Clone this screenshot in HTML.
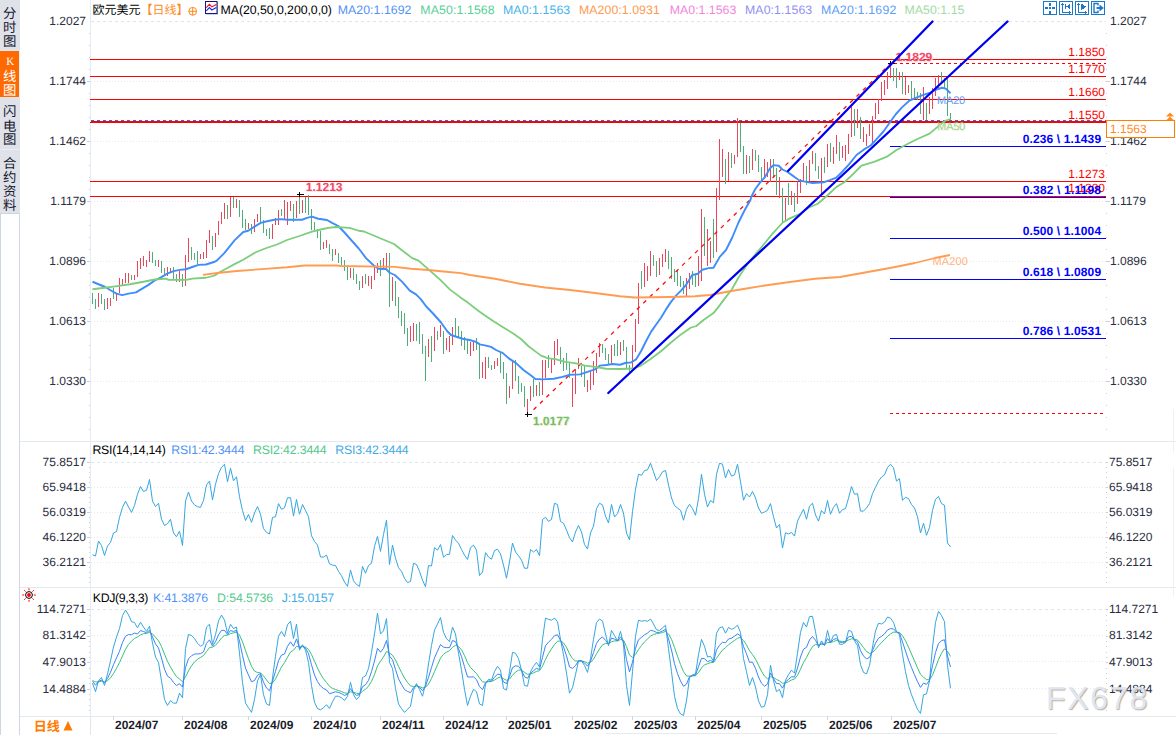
<!DOCTYPE html>
<html lang="zh"><head><meta charset="utf-8"><title>EURUSD 日线</title>
<style>
html,body{margin:0;padding:0;background:#fff}
body{width:1176px;height:735px;position:relative;overflow:hidden;font-family:"Liberation Sans",sans-serif;font-size:12px;text-rendering:geometricPrecision}
svg{position:absolute;left:0;top:0}
.t{position:absolute;white-space:nowrap;line-height:1;margin:0;padding:0}
.c{overflow:hidden;user-select:text}
</style></head><body>
<svg width="1176" height="735" viewBox="0 0 1176 735">
<g shape-rendering="crispEdges" fill="none">
<line x1="91" x2="1106" y1="21.5" y2="21.5" stroke="#dfe6ee" stroke-dasharray="3 3"/>
<line x1="91" x2="1106" y1="81.5" y2="81.5" stroke="#e6eaef" stroke-dasharray="1 2"/>
<line x1="91" x2="1106" y1="141.5" y2="141.5" stroke="#e6eaef" stroke-dasharray="1 2"/>
<line x1="91" x2="1106" y1="201.5" y2="201.5" stroke="#e6eaef" stroke-dasharray="1 2"/>
<line x1="91" x2="1106" y1="261.5" y2="261.5" stroke="#e6eaef" stroke-dasharray="1 2"/>
<line x1="91" x2="1106" y1="321.5" y2="321.5" stroke="#e6eaef" stroke-dasharray="1 2"/>
<line x1="91" x2="1106" y1="381.5" y2="381.5" stroke="#e6eaef" stroke-dasharray="1 2"/>
<line x1="91" x2="1106" y1="462.5" y2="462.5" stroke="#dfe6ee" stroke-dasharray="3 3"/>
<line x1="91" x2="1106" y1="487.5" y2="487.5" stroke="#e6eaef" stroke-dasharray="1 2"/>
<line x1="91" x2="1106" y1="512.5" y2="512.5" stroke="#e6eaef" stroke-dasharray="1 2"/>
<line x1="91" x2="1106" y1="537.5" y2="537.5" stroke="#e6eaef" stroke-dasharray="1 2"/>
<line x1="91" x2="1106" y1="562.5" y2="562.5" stroke="#e6eaef" stroke-dasharray="1 2"/>
<line x1="91" x2="1106" y1="609.5" y2="609.5" stroke="#dfe6ee" stroke-dasharray="3 3"/>
<line x1="91" x2="1106" y1="635.5" y2="635.5" stroke="#e6eaef" stroke-dasharray="1 2"/>
<line x1="91" x2="1106" y1="661.5" y2="661.5" stroke="#e6eaef" stroke-dasharray="1 2"/>
<line x1="91" x2="1106" y1="688.5" y2="688.5" stroke="#e6eaef" stroke-dasharray="1 2"/>
<line x1="20" x2="1176" y1="441.5" y2="441.5" stroke="#e4e9f0"/>
<line x1="20" x2="1176" y1="587.5" y2="587.5" stroke="#e4e9f0"/>
<line x1="20" x2="1176" y1="716.5" y2="716.5" stroke="#e4e9f0"/>
<line x1="90.5" x2="90.5" y1="0" y2="716" stroke="#e6ecf3"/>
<line x1="90.5" x2="90.5" y1="716" y2="735" stroke="#e1e6ee"/>
<line x1="1173.5" x2="1173.5" y1="409" y2="452" stroke="#edf1f5"/>
<line x1="1173.5" x2="1173.5" y1="468" y2="596" stroke="#edf1f5"/>
<rect x="89" y="33" width="1" height="1" fill="#c9d0da"/>
<rect x="1106" y="33" width="1" height="1" fill="#c9d0da"/>
<rect x="89" y="45" width="1" height="1" fill="#c9d0da"/>
<rect x="1106" y="45" width="1" height="1" fill="#c9d0da"/>
<rect x="89" y="57" width="1" height="1" fill="#c9d0da"/>
<rect x="1106" y="57" width="1" height="1" fill="#c9d0da"/>
<rect x="89" y="69" width="1" height="1" fill="#c9d0da"/>
<rect x="1106" y="69" width="1" height="1" fill="#c9d0da"/>
<rect x="87" y="81" width="3" height="1" fill="#c9d0da"/>
<rect x="1106" y="81" width="4" height="1" fill="#c9d0da"/>
<rect x="89" y="93" width="1" height="1" fill="#c9d0da"/>
<rect x="1106" y="93" width="1" height="1" fill="#c9d0da"/>
<rect x="89" y="105" width="1" height="1" fill="#c9d0da"/>
<rect x="1106" y="105" width="1" height="1" fill="#c9d0da"/>
<rect x="89" y="117" width="1" height="1" fill="#c9d0da"/>
<rect x="1106" y="117" width="1" height="1" fill="#c9d0da"/>
<rect x="89" y="129" width="1" height="1" fill="#c9d0da"/>
<rect x="1106" y="129" width="1" height="1" fill="#c9d0da"/>
<rect x="87" y="141" width="3" height="1" fill="#c9d0da"/>
<rect x="1106" y="141" width="4" height="1" fill="#c9d0da"/>
<rect x="89" y="153" width="1" height="1" fill="#c9d0da"/>
<rect x="1106" y="153" width="1" height="1" fill="#c9d0da"/>
<rect x="89" y="165" width="1" height="1" fill="#c9d0da"/>
<rect x="1106" y="165" width="1" height="1" fill="#c9d0da"/>
<rect x="89" y="177" width="1" height="1" fill="#c9d0da"/>
<rect x="1106" y="177" width="1" height="1" fill="#c9d0da"/>
<rect x="89" y="189" width="1" height="1" fill="#c9d0da"/>
<rect x="1106" y="189" width="1" height="1" fill="#c9d0da"/>
<rect x="87" y="201" width="3" height="1" fill="#c9d0da"/>
<rect x="1106" y="201" width="4" height="1" fill="#c9d0da"/>
<rect x="89" y="213" width="1" height="1" fill="#c9d0da"/>
<rect x="1106" y="213" width="1" height="1" fill="#c9d0da"/>
<rect x="89" y="225" width="1" height="1" fill="#c9d0da"/>
<rect x="1106" y="225" width="1" height="1" fill="#c9d0da"/>
<rect x="89" y="237" width="1" height="1" fill="#c9d0da"/>
<rect x="1106" y="237" width="1" height="1" fill="#c9d0da"/>
<rect x="89" y="249" width="1" height="1" fill="#c9d0da"/>
<rect x="1106" y="249" width="1" height="1" fill="#c9d0da"/>
<rect x="87" y="261" width="3" height="1" fill="#c9d0da"/>
<rect x="1106" y="261" width="4" height="1" fill="#c9d0da"/>
<rect x="89" y="273" width="1" height="1" fill="#c9d0da"/>
<rect x="1106" y="273" width="1" height="1" fill="#c9d0da"/>
<rect x="89" y="285" width="1" height="1" fill="#c9d0da"/>
<rect x="1106" y="285" width="1" height="1" fill="#c9d0da"/>
<rect x="89" y="297" width="1" height="1" fill="#c9d0da"/>
<rect x="1106" y="297" width="1" height="1" fill="#c9d0da"/>
<rect x="89" y="309" width="1" height="1" fill="#c9d0da"/>
<rect x="1106" y="309" width="1" height="1" fill="#c9d0da"/>
<rect x="87" y="321" width="3" height="1" fill="#c9d0da"/>
<rect x="1106" y="321" width="4" height="1" fill="#c9d0da"/>
<rect x="89" y="333" width="1" height="1" fill="#c9d0da"/>
<rect x="1106" y="333" width="1" height="1" fill="#c9d0da"/>
<rect x="89" y="345" width="1" height="1" fill="#c9d0da"/>
<rect x="1106" y="345" width="1" height="1" fill="#c9d0da"/>
<rect x="89" y="357" width="1" height="1" fill="#c9d0da"/>
<rect x="1106" y="357" width="1" height="1" fill="#c9d0da"/>
<rect x="89" y="369" width="1" height="1" fill="#c9d0da"/>
<rect x="1106" y="369" width="1" height="1" fill="#c9d0da"/>
<rect x="87" y="381" width="3" height="1" fill="#c9d0da"/>
<rect x="1106" y="381" width="4" height="1" fill="#c9d0da"/>
<rect x="89" y="393" width="1" height="1" fill="#c9d0da"/>
<rect x="1106" y="393" width="1" height="1" fill="#c9d0da"/>
<rect x="89" y="405" width="1" height="1" fill="#c9d0da"/>
<rect x="1106" y="405" width="1" height="1" fill="#c9d0da"/>
<rect x="89" y="417" width="1" height="1" fill="#c9d0da"/>
<rect x="1106" y="417" width="1" height="1" fill="#c9d0da"/>
<rect x="89" y="429" width="1" height="1" fill="#c9d0da"/>
<rect x="1106" y="429" width="1" height="1" fill="#c9d0da"/>
<rect x="87" y="462" width="3" height="1" fill="#c9d0da"/>
<rect x="1106" y="462" width="2" height="1" fill="#c9d0da"/>
<rect x="89" y="467" width="1" height="1" fill="#c9d0da"/>
<rect x="1106" y="467" width="1" height="1" fill="#c9d0da"/>
<rect x="89" y="472" width="1" height="1" fill="#c9d0da"/>
<rect x="1106" y="472" width="1" height="1" fill="#c9d0da"/>
<rect x="89" y="477" width="1" height="1" fill="#c9d0da"/>
<rect x="1106" y="477" width="1" height="1" fill="#c9d0da"/>
<rect x="89" y="482" width="1" height="1" fill="#c9d0da"/>
<rect x="1106" y="482" width="1" height="1" fill="#c9d0da"/>
<rect x="87" y="487" width="3" height="1" fill="#c9d0da"/>
<rect x="1106" y="487" width="2" height="1" fill="#c9d0da"/>
<rect x="89" y="492" width="1" height="1" fill="#c9d0da"/>
<rect x="1106" y="492" width="1" height="1" fill="#c9d0da"/>
<rect x="89" y="497" width="1" height="1" fill="#c9d0da"/>
<rect x="1106" y="497" width="1" height="1" fill="#c9d0da"/>
<rect x="89" y="502" width="1" height="1" fill="#c9d0da"/>
<rect x="1106" y="502" width="1" height="1" fill="#c9d0da"/>
<rect x="89" y="507" width="1" height="1" fill="#c9d0da"/>
<rect x="1106" y="507" width="1" height="1" fill="#c9d0da"/>
<rect x="87" y="512" width="3" height="1" fill="#c9d0da"/>
<rect x="1106" y="512" width="2" height="1" fill="#c9d0da"/>
<rect x="89" y="517" width="1" height="1" fill="#c9d0da"/>
<rect x="1106" y="517" width="1" height="1" fill="#c9d0da"/>
<rect x="89" y="522" width="1" height="1" fill="#c9d0da"/>
<rect x="1106" y="522" width="1" height="1" fill="#c9d0da"/>
<rect x="89" y="527" width="1" height="1" fill="#c9d0da"/>
<rect x="1106" y="527" width="1" height="1" fill="#c9d0da"/>
<rect x="89" y="532" width="1" height="1" fill="#c9d0da"/>
<rect x="1106" y="532" width="1" height="1" fill="#c9d0da"/>
<rect x="87" y="537" width="3" height="1" fill="#c9d0da"/>
<rect x="1106" y="537" width="2" height="1" fill="#c9d0da"/>
<rect x="89" y="542" width="1" height="1" fill="#c9d0da"/>
<rect x="1106" y="542" width="1" height="1" fill="#c9d0da"/>
<rect x="89" y="547" width="1" height="1" fill="#c9d0da"/>
<rect x="1106" y="547" width="1" height="1" fill="#c9d0da"/>
<rect x="89" y="552" width="1" height="1" fill="#c9d0da"/>
<rect x="1106" y="552" width="1" height="1" fill="#c9d0da"/>
<rect x="89" y="557" width="1" height="1" fill="#c9d0da"/>
<rect x="1106" y="557" width="1" height="1" fill="#c9d0da"/>
<rect x="87" y="562" width="3" height="1" fill="#c9d0da"/>
<rect x="1106" y="562" width="2" height="1" fill="#c9d0da"/>
<rect x="89" y="567" width="1" height="1" fill="#c9d0da"/>
<rect x="1106" y="567" width="1" height="1" fill="#c9d0da"/>
<rect x="89" y="572" width="1" height="1" fill="#c9d0da"/>
<rect x="1106" y="572" width="1" height="1" fill="#c9d0da"/>
<rect x="89" y="577" width="1" height="1" fill="#c9d0da"/>
<rect x="1106" y="577" width="1" height="1" fill="#c9d0da"/>
<rect x="89" y="582" width="1" height="1" fill="#c9d0da"/>
<rect x="1106" y="582" width="1" height="1" fill="#c9d0da"/>
<rect x="87" y="609" width="3" height="1" fill="#c9d0da"/>
<rect x="1106" y="609" width="2" height="1" fill="#c9d0da"/>
<rect x="89" y="615" width="1" height="1" fill="#c9d0da"/>
<rect x="1106" y="615" width="1" height="1" fill="#c9d0da"/>
<rect x="89" y="620" width="1" height="1" fill="#c9d0da"/>
<rect x="1106" y="620" width="1" height="1" fill="#c9d0da"/>
<rect x="89" y="625" width="1" height="1" fill="#c9d0da"/>
<rect x="1106" y="625" width="1" height="1" fill="#c9d0da"/>
<rect x="89" y="630" width="1" height="1" fill="#c9d0da"/>
<rect x="1106" y="630" width="1" height="1" fill="#c9d0da"/>
<rect x="87" y="636" width="3" height="1" fill="#c9d0da"/>
<rect x="1106" y="636" width="2" height="1" fill="#c9d0da"/>
<rect x="89" y="641" width="1" height="1" fill="#c9d0da"/>
<rect x="1106" y="641" width="1" height="1" fill="#c9d0da"/>
<rect x="89" y="646" width="1" height="1" fill="#c9d0da"/>
<rect x="1106" y="646" width="1" height="1" fill="#c9d0da"/>
<rect x="89" y="652" width="1" height="1" fill="#c9d0da"/>
<rect x="1106" y="652" width="1" height="1" fill="#c9d0da"/>
<rect x="89" y="657" width="1" height="1" fill="#c9d0da"/>
<rect x="1106" y="657" width="1" height="1" fill="#c9d0da"/>
<rect x="87" y="662" width="3" height="1" fill="#c9d0da"/>
<rect x="1106" y="662" width="2" height="1" fill="#c9d0da"/>
<rect x="89" y="668" width="1" height="1" fill="#c9d0da"/>
<rect x="1106" y="668" width="1" height="1" fill="#c9d0da"/>
<rect x="89" y="673" width="1" height="1" fill="#c9d0da"/>
<rect x="1106" y="673" width="1" height="1" fill="#c9d0da"/>
<rect x="89" y="678" width="1" height="1" fill="#c9d0da"/>
<rect x="1106" y="678" width="1" height="1" fill="#c9d0da"/>
<rect x="89" y="683" width="1" height="1" fill="#c9d0da"/>
<rect x="1106" y="683" width="1" height="1" fill="#c9d0da"/>
<rect x="87" y="689" width="3" height="1" fill="#c9d0da"/>
<rect x="1106" y="689" width="2" height="1" fill="#c9d0da"/>
<rect x="89" y="694" width="1" height="1" fill="#c9d0da"/>
<rect x="1106" y="694" width="1" height="1" fill="#c9d0da"/>
<rect x="89" y="699" width="1" height="1" fill="#c9d0da"/>
<rect x="1106" y="699" width="1" height="1" fill="#c9d0da"/>
<rect x="89" y="705" width="1" height="1" fill="#c9d0da"/>
<rect x="1106" y="705" width="1" height="1" fill="#c9d0da"/>
<rect x="89" y="710" width="1" height="1" fill="#c9d0da"/>
<rect x="1106" y="710" width="1" height="1" fill="#c9d0da"/>
<rect x="113" y="716" width="1" height="4" fill="#cfd6e0"/>
<rect x="182" y="716" width="1" height="4" fill="#cfd6e0"/>
<rect x="248" y="716" width="1" height="4" fill="#cfd6e0"/>
<rect x="311" y="716" width="1" height="4" fill="#cfd6e0"/>
<rect x="380" y="716" width="1" height="4" fill="#cfd6e0"/>
<rect x="443" y="716" width="1" height="4" fill="#cfd6e0"/>
<rect x="506" y="716" width="1" height="4" fill="#cfd6e0"/>
<rect x="572" y="716" width="1" height="4" fill="#cfd6e0"/>
<rect x="632" y="716" width="1" height="4" fill="#cfd6e0"/>
<rect x="695" y="716" width="1" height="4" fill="#cfd6e0"/>
<rect x="761" y="716" width="1" height="4" fill="#cfd6e0"/>
<rect x="827" y="716" width="1" height="4" fill="#cfd6e0"/>
<rect x="891" y="716" width="1" height="4" fill="#cfd6e0"/>
</g>
<g shape-rendering="crispEdges">
<rect x="90" y="59" width="1016" height="1" fill="#ff0000"/>
<rect x="90" y="76" width="1016" height="1" fill="#ff0000"/>
<rect x="90" y="99" width="1016" height="1" fill="#ff0000"/>
<rect x="90" y="181" width="1016" height="1" fill="#ff0000"/>
<rect x="90" y="196" width="1016" height="1" fill="#ff0000"/>
<rect x="91" y="121" width="1015" height="2" fill="#ff0000"/><rect x="90" y="122" width="1" height="1" fill="#ff0000"/>
<line x1="91" x2="1106" y1="120.5" y2="120.5" stroke="#0a78f0" stroke-dasharray="3 3"/>
<line x1="894" x2="1106" y1="63.5" y2="63.5" stroke="#ff0000" stroke-dasharray="3 3"/>
<line x1="890" x2="1103" y1="413.5" y2="413.5" stroke="#ff0000" stroke-dasharray="3 3"/>
<rect x="890" y="146" width="216" height="1" fill="#0000ff"/>
<rect x="890" y="197" width="216" height="1" fill="#0000ff"/>
<rect x="890" y="238" width="216" height="1" fill="#0000ff"/>
<rect x="890" y="279" width="216" height="1" fill="#0000ff"/>
<rect x="890" y="338" width="216" height="1" fill="#0000ff"/>
</g>
<path d="M92.5 293V304M95.5 299V309M101.5 294V304M104.5 299V310M113.5 288V299M131.5 275V280M152.5 252V263M155.5 260V266M161.5 261V273M164.5 268V274M173.5 267V279M176.5 274V282M182.5 274V287M191.5 247V260M194.5 253V260M197.5 251V264M212.5 236V250M227.5 205V219M233.5 197V208M239.5 200V217M242.5 210V228M245.5 219V230M251.5 224V234M260.5 207V222M263.5 220V233M266.5 229V236M269.5 228V239M281.5 209V216M293.5 204V222M299.5 194V214M305.5 197V213M308.5 195V215M311.5 209V230M314.5 222V230M317.5 229V238M320.5 231V250M329.5 244V254M332.5 249V261M338.5 253V263M341.5 257V265M344.5 260V271M347.5 266V280M353.5 268V280M356.5 274V284M359.5 281V290M365.5 274V284M380.5 260V276M389.5 253V307M395.5 281V306M398.5 297V318M401.5 311V326M404.5 313V334M407.5 328V346M416.5 324V341M419.5 322V344M422.5 334V354M425.5 346V381M431.5 336V362M437.5 331V340M443.5 331V354M455.5 318V336M458.5 326V338M461.5 331V346M464.5 337V350M467.5 340V354M476.5 338V350M479.5 345V379M488.5 357V368M491.5 365V370M500.5 353V373M503.5 362V379M506.5 373V404M515.5 360V381M518.5 376V394M521.5 383V392M524.5 386V407M533.5 379V397M539.5 382V396M548.5 355V368M560.5 347V364M563.5 358V371M566.5 353V370M569.5 363V378M581.5 366V377M584.5 365V387M602.5 344V353M605.5 348V360M608.5 354V364M614.5 344V356M617.5 340V356M623.5 340V351M626.5 347V369M629.5 365V372M641.5 271V289M653.5 255V266M656.5 261V277M668.5 251V269M671.5 257V279M674.5 269V282M677.5 270V286M680.5 276V287M683.5 281V294M692.5 271V285M695.5 275V287M704.5 217V256M713.5 219V258M725.5 159V184M731.5 153V168M740.5 123V152M743.5 146V174M749.5 156V173M755.5 150V161M758.5 155V172M761.5 167V181M773.5 159V177M776.5 168V195M782.5 188V223M788.5 183V205M794.5 193V212M806.5 166V185M815.5 153V171M818.5 166V179M824.5 157V173M830.5 143V162M839.5 142V161M854.5 109V136M860.5 117V139M893.5 68V81M896.5 68V88M902.5 72V94M911.5 81V99M914.5 88V99M917.5 92V100M920.5 93V114M926.5 103V120M941.5 72V84M944.5 78V89M947.5 79V116M950.5 113V120" stroke="#4dae7a" stroke-width="1" fill="none" shape-rendering="crispEdges"/>
<path d="M98.5 293V307M107.5 298V309M110.5 298V306M116.5 294V301M119.5 278V293M122.5 279V285M125.5 273V283M128.5 273V283M134.5 275V280M137.5 261V277M140.5 258V269M143.5 256V266M146.5 260V267M149.5 251V262M158.5 260V267M167.5 267V276M170.5 268V272M179.5 271V282M185.5 255V286M188.5 238V262M200.5 254V259M203.5 252V259M206.5 240V258M209.5 230V243M215.5 233V247M218.5 221V235M221.5 212V224M224.5 203V219M230.5 197V217M236.5 199V208M248.5 223V229M254.5 219V232M257.5 214V222M272.5 224V239M275.5 218V225M278.5 210V225M284.5 200V219M287.5 202V225M290.5 201V211M296.5 201V218M302.5 200V213M323.5 242V249M326.5 240V248M335.5 249V255M350.5 268V278M362.5 276V288M368.5 276V286M371.5 276V289M374.5 266V280M377.5 263V273M383.5 258V269M386.5 253V268M392.5 277V301M410.5 326V342M413.5 323V341M428.5 339V357M434.5 327V351M440.5 325V337M446.5 338V350M449.5 336V352M452.5 327V345M470.5 342V356M473.5 342V351M482.5 362V378M485.5 357V379M494.5 361V369M497.5 358V366M509.5 386V398M512.5 362V389M527.5 399V413M530.5 386V401M536.5 385V396M542.5 360V395M545.5 360V378M551.5 359V373M554.5 341V365M557.5 339V355M572.5 378V407M575.5 369V394M578.5 358V369M587.5 380V392M590.5 372V390M593.5 361V385M596.5 353V373M599.5 343V357M611.5 345V363M620.5 342V355M632.5 345V368M635.5 319V352M638.5 283V324M644.5 263V287M647.5 266V281M650.5 251V276M659.5 258V275M662.5 254V267M665.5 249V262M686.5 278V296M689.5 273V289M698.5 256V286M701.5 209V281M707.5 229V266M710.5 241V263M716.5 188V252M719.5 139V200M722.5 149V177M728.5 152V181M734.5 155V164M737.5 118V157M746.5 155V174M752.5 149V170M764.5 159V178M767.5 162V177M770.5 159V182M779.5 177V198M785.5 198V221M791.5 191V205M797.5 181V204M800.5 179V193M803.5 163V182M809.5 160V181M812.5 151V164M821.5 158V195M827.5 144V167M833.5 147V164M836.5 135V154M842.5 146V158M845.5 145V161M848.5 134V154M851.5 107V137M857.5 109V128M863.5 127V142M866.5 134V146M869.5 124V136M872.5 116V144M875.5 103V119M878.5 99V114M881.5 82V101M884.5 80V95M887.5 72V89M890.5 64V78M899.5 72V80M905.5 77V95M908.5 85V93M923.5 87V120M929.5 97V114M932.5 88V109M935.5 78V96M938.5 75V88" stroke="#e8465a" stroke-width="1" fill="none" shape-rendering="crispEdges"/>
<line x1="533.5" y1="409.8" x2="890.5" y2="63.5" stroke="#ff0808" stroke-width="1.25" stroke-dasharray="4 5"/>
<polyline points="92.5,281.75 98.5,284.25 104.75,286.75 111,290.5 116.5,293.6 122.25,295.1 128.5,293.6 136,292.4 142.25,288.6 148.5,284.9 154.75,280.5 161,277.4 167.25,273.6 173.5,271.1 179.75,269.9 186,269.25 192.25,267 198.5,264.9 206,264.5 214.75,261.75 217,260.4 224.5,252.9 234.5,240.4 243.25,232 248.25,230.75 254.5,226.6 260.75,222.9 267,221.25 274.5,219.75 280.75,219.1 287,219.75 302,219.75 307,217.9 312,216.6 318.25,218.75 327,220 332,222.9 338.25,226 344.5,232.5 352,241 358.75,248.5 366,258.1 373.5,265.25 378.5,268.75 386,269 389.75,272.75 394.75,275 402.25,281.9 409.75,290.6 416,294.4 421,299.4 426,306.25 433.5,314 441,322.5 447.25,331.25 451,335 454.75,336.25 463.5,339 469.75,340 476,341.9 479.75,344.4 486,345.6 491,346.9 496,350 502.9,353.1 508.5,358.1 516,363.1 523.5,370 531,375.6 535.4,379 542.5,379.4 553.75,378.75 562.5,376.9 570,374.75 580,374.4 587.5,371.9 595,369.4 600,365.6 606.25,365 612.5,364 620,364.75 626,362.75 631,362.5 636,359.4 641,351.25 646,341.25 651,331.9 656,324.75 661,317.75 666,309.4 671,301.9 676,295.6 681,290.6 686,285 692.25,275 697.9,273.75 702.25,269.75 708.5,268.1 713.5,267.75 719.75,256.9 726,250 732.25,237.5 738.5,222.5 744.75,210 750.4,200 751.25,197 755,189.5 760,182.6 765,177 770,168.25 773.75,165.1 778.75,165.75 782.5,169.5 787.5,172 793.75,176.4 798.75,180.1 803.75,181.4 812.5,183 823.75,182.25 830,180.1 836.25,177.6 841.5,172.5 849,164.4 856.5,155 864,149.4 870.75,145.5 877,138.6 883.25,131.75 889.5,123 895.75,114.25 902,107.4 909.5,100.5 917,97.4 923.25,94.9 929.5,93 935.75,89.9 942,87.75 945.75,88.6 950.5,93.25" fill="none" stroke="#3f8cfb" stroke-width="1.9" stroke-linejoin="round"/>
<polyline points="92.5,289.25 104.75,287.75 117.25,286.1 129.75,284.25 142.25,282 154.75,279.5 166,278.6 168.5,279.9 186,279.9 192.25,278.6 206,277.75 214.75,275.5 219.5,272.25 227,268.25 234.5,264.1 243.25,259.75 255.75,252.25 265.75,248.25 277,244.5 287,240 299.5,236 312,231.6 320.75,229.5 328.25,227.9 335.75,227 349.5,227.9 358.75,230.75 364,231.5 379,237.75 394,244 401.6,250 412.25,258.1 418.5,260.6 428.5,269.4 439.75,279.4 449.75,289.4 459.75,296.9 468.5,303.1 477.25,310 483.5,314.4 493.5,321.25 503.5,327.5 513.5,333.75 521,339 528.5,346.25 536,351.9 541,355.6 547.5,358.1 556.25,359.4 565,361.9 575,363.1 585,365.6 595,366.9 606.25,368.75 620,369 633.5,368.5 641,365.6 651,358.75 661,351.25 671,342.5 681,334.4 691,327.5 696,326.25 703.5,320 713.5,313.1 718.5,306.9 726,296.9 732.25,288.75 738.5,277.5 748.5,262.5 762.25,246.25 772.75,233.4 782.75,222.5 790.25,218.1 799,214.4 809,207.5 817.75,203.75 826.5,196.25 836.5,186.9 844,182.5 851.5,175.6 861.5,165.6 874,161.9 886.5,156.9 896.5,150 904.5,145.5 917,139.25 929.5,133.6 937,127.4 944.5,121.1 950.5,119" fill="none" stroke="#7ccd7c" stroke-width="1.8" stroke-linejoin="round"/>
<polyline points="202.9,274.9 217.25,273 237,271 262,269.1 287,267.25 304.5,265.5 337,265.5 341,266 394.75,266.9 411,268.75 428.5,270 443.5,271.5 461,273.1 470,275 495,278.75 520,283.75 545,287.5 570,290 595,293 620,296.25 635,297.5 670,297 695,296.25 710,295 730,291.25 745,288.75 765,285.5 790,282 815,278.75 840,277 865,272.5 890,268 915,263 935,258 950,255" fill="none" stroke="#ff9c52" stroke-width="1.8" stroke-linejoin="round"/>
<path d="M296.5 194.5H303.5M299.5 192.0V197.0" stroke="#000" stroke-width="1" fill="none" shape-rendering="crispEdges"/>
<path d="M524.5 414.5H531.5M527.5 412.0V417.0" stroke="#000" stroke-width="1" fill="none" shape-rendering="crispEdges"/>
<path d="M887.5 63.5H894.5M890.5 61.0V66.0" stroke="#000" stroke-width="1" fill="none" shape-rendering="crispEdges"/>
<text x="896.6" y="62.3" font-family="Liberation Sans, sans-serif" font-size="12" font-weight="bold" fill="#ffe3e8">1.1829</text><text x="895.6" y="61.3" font-family="Liberation Sans, sans-serif" font-size="12" font-weight="bold" fill="#f04a64">1.1829</text>
<line x1="788" y1="171" x2="932.5" y2="21.5" stroke="#0000f0" stroke-width="2.3" stroke-linecap="round"/>
<line x1="608.3" y1="393" x2="1007.5" y2="21.5" stroke="#0000f0" stroke-width="2.3" stroke-linecap="round"/>
<polyline points="92.5,554.75 95.5,556 98.5,541.12 101.5,545.5 104.5,555.5 107.5,546.12 110.5,542.38 113.5,533 116.5,531.5 119.5,517.38 122.5,507.38 125.5,501.12 128.5,507 131.5,512.38 134.5,505.5 137.5,494.25 140.5,486.5 143.5,491.5 146.5,490.25 149.5,479.5 152.5,501.12 155.5,506.5 158.5,503.25 161.5,519.25 164.5,525.5 167.5,523.62 170.5,519.25 173.5,533 176.5,536.75 179.5,531.12 182.5,545.5 185.5,501.12 188.5,492 191.5,501.12 194.5,504.88 197.5,506.75 200.5,507.38 203.5,500.5 206.5,484.88 209.5,481.12 212.5,499.88 215.5,484.25 218.5,473.62 221.5,467.38 224.5,464.25 227.5,481.75 230.5,468.25 233.5,480.75 236.5,476.75 239.5,496.75 242.5,510.5 245.5,520.5 248.5,514.5 251.5,522.38 254.5,513 257.5,506.5 260.5,514.25 263.5,528.62 266.5,532.38 269.5,534 272.5,517.38 275.5,516.75 278.5,503.62 281.5,509.25 284.5,507.75 287.5,497.75 290.5,497.75 293.5,516.12 296.5,499.5 299.5,514.25 302.5,504.5 305.5,510.5 308.5,516.75 311.5,535.75 314.5,541.38 317.5,545.12 320.5,557 323.5,557 326.5,555.12 329.5,563.88 332.5,565.12 335.5,565.5 338.5,571.38 341.5,575.75 344.5,582 347.5,586.38 350.5,570.12 353.5,580.75 356.5,584.5 359.5,586.38 362.5,566.38 365.5,573.25 368.5,565.5 371.5,563.25 374.5,546.38 377.5,536.38 380.5,551.38 383.5,534.5 386.5,520.12 389.5,564.5 392.5,545.12 395.5,558.25 398.5,567.62 401.5,571.38 404.5,578.25 407.5,582.62 410.5,581.38 413.5,563.25 416.5,564.5 419.5,571.38 422.5,580.12 425.5,586.75 428.5,565.5 431.5,566 434.5,547.62 437.5,550.12 440.5,544.5 443.5,557.25 446.5,554.5 449.5,554.25 452.5,535.5 455.5,540.12 458.5,543.25 461.5,549.5 464.5,555.12 467.5,559.5 470.5,547.62 473.5,545.12 476.5,550.12 479.5,575.5 482.5,572 485.5,552.62 488.5,557 491.5,559.25 494.5,550.5 497.5,549.25 500.5,553.88 503.5,565.12 506.5,578.25 509.5,562 512.5,543 515.5,552 518.5,555.75 521.5,560.12 524.5,568.25 527.5,568.25 530.5,549.5 533.5,552 536.5,549.5 539.5,555.75 542.5,519.5 545.5,517.25 548.5,521.38 551.5,519.5 554.5,503.25 557.5,504.5 560.5,521.38 563.5,523.25 566.5,530.12 569.5,537.62 572.5,542 575.5,532 578.5,525.5 581.5,532 584.5,544.5 587.5,549 590.5,533 593.5,526.12 596.5,508.62 599.5,503.25 602.5,504.88 605.5,516.12 608.5,523 611.5,504.5 614.5,517 617.5,513.62 620.5,504.5 623.5,513 626.5,533 629.5,539.88 632.5,511.75 635.5,489.25 638.5,474.25 641.5,475.25 644.5,470.5 647.5,469.88 650.5,463.25 653.5,471.75 656.5,480.5 659.5,476.75 662.5,471.75 665.5,470.5 668.5,484.88 671.5,498 674.5,505.5 677.5,508 680.5,510.25 683.5,520.25 686.5,509.25 689.5,504.25 692.5,508.62 695.5,515.25 698.5,498.62 701.5,474.25 704.5,494.25 707.5,507 710.5,500.5 713.5,502.75 716.5,474.25 719.5,463.25 722.5,464.25 725.5,478 728.5,469.5 731.5,476.12 734.5,474.88 737.5,464.25 740.5,481.75 743.5,500.25 746.5,493.62 749.5,497 752.5,491.5 755.5,498 758.5,508 761.5,513.25 764.5,512 767.5,510.25 770.5,503.62 773.5,516.75 776.5,528 779.5,524.5 782.5,548 785.5,532.75 788.5,534 791.5,532.38 794.5,536.12 797.5,521.12 800.5,514.88 803.5,509.25 806.5,519.25 809.5,506.12 812.5,503.25 815.5,514.88 818.5,521.12 821.5,510.5 824.5,514 827.5,500.5 830.5,514.25 833.5,507.38 836.5,503.62 839.5,513.25 842.5,509.5 845.5,508.62 848.5,498.25 851.5,486.5 854.5,494.25 857.5,493.62 860.5,511.12 863.5,511.12 866.5,508 869.5,503.62 872.5,493.62 875.5,487.38 878.5,481.12 881.5,477 884.5,474.88 887.5,467.38 890.5,464.25 893.5,467.75 896.5,481.12 899.5,478.62 902.5,500.25 905.5,497.38 908.5,498.62 911.5,504.5 914.5,508 917.5,516.75 920.5,533 923.5,523.25 926.5,535.25 929.5,527.38 932.5,510.5 935.5,499.25 938.5,496.5 941.5,503.62 944.5,505.25 947.5,543 950.5,547" fill="none" stroke="#35a6df" stroke-width="1" stroke-linejoin="round"/>
<polyline points="92.5,683.18 95.5,691.63 98.5,680.87 101.5,677.49 104.5,685.48 107.5,673.95 110.5,660.88 113.5,647.05 116.5,637.05 119.5,628.6 122.5,615.53 125.5,610.15 128.5,614.76 131.5,621.68 134.5,622.45 137.5,627.83 140.5,622.14 143.5,627.06 146.5,631.37 149.5,626.29 152.5,643.2 155.5,657.04 158.5,662.42 161.5,680.87 164.5,699.32 167.5,705.47 170.5,700.55 173.5,703.16 176.5,703.16 179.5,693.17 182.5,697.78 185.5,648.59 188.5,634.44 191.5,635.52 194.5,638.59 197.5,643.2 200.5,646.28 203.5,644.28 206.5,627.06 209.5,624.29 212.5,644.28 215.5,634.75 218.5,620.91 221.5,615.07 224.5,620.14 227.5,633.21 230.5,624.29 233.5,628.6 236.5,627.06 239.5,653.2 242.5,682.41 245.5,703.16 248.5,707.78 251.5,712.39 254.5,699.32 257.5,680.87 260.5,674.72 263.5,694.71 266.5,703.93 269.5,705.47 272.5,677.8 275.5,656.27 278.5,636.29 281.5,631.37 284.5,636.59 287.5,624.76 290.5,621.22 293.5,638.59 296.5,623.99 299.5,650.12 302.5,644.74 305.5,650.12 308.5,662.42 311.5,685.48 314.5,702.39 317.5,708.54 320.5,709.77 323.5,707.78 326.5,704.7 329.5,708.54 332.5,701.63 335.5,696.24 338.5,696.24 341.5,697.78 344.5,700.55 347.5,696.24 350.5,682.41 353.5,694.71 356.5,699.63 359.5,696.24 362.5,677.49 365.5,675.95 368.5,668.57 371.5,652.43 374.5,633.98 377.5,613.22 380.5,633.98 383.5,630.9 386.5,618.61 389.5,662.42 392.5,668.57 395.5,688.56 398.5,703.93 401.5,708.54 404.5,712.39 407.5,709.31 410.5,706.24 413.5,690.1 416.5,683.64 419.5,689.33 422.5,696.24 425.5,683.95 428.5,663.96 431.5,645.51 434.5,630.14 437.5,623.99 440.5,617.53 443.5,632.44 446.5,638.59 449.5,641.67 452.5,627.06 455.5,633.98 458.5,653.2 461.5,670.11 464.5,689.33 467.5,705.47 470.5,696.24 473.5,689.33 476.5,691.63 479.5,703.93 482.5,705.47 485.5,683.95 488.5,679.33 491.5,680.1 494.5,671.65 497.5,666.27 500.5,670.11 503.5,688.56 506.5,690.1 509.5,671.65 512.5,652.43 515.5,653.2 518.5,658.58 521.5,670.11 524.5,685.48 527.5,686.25 530.5,671.65 533.5,666.27 536.5,662.42 539.5,667.03 542.5,639.36 545.5,618.14 548.5,619.37 551.5,620.14 554.5,618.14 557.5,621.68 560.5,639.36 563.5,654.73 566.5,673.18 569.5,693.17 572.5,687.79 575.5,674.72 578.5,660.88 581.5,660.88 584.5,665.5 587.5,672.41 590.5,658.58 593.5,639.36 596.5,622.45 599.5,619.07 602.5,620.91 605.5,633.98 608.5,645.51 611.5,630.44 614.5,635.52 617.5,640.9 620.5,631.37 623.5,643.97 626.5,685.48 629.5,705.47 632.5,671.65 635.5,636.29 638.5,620.14 641.5,621.22 644.5,620.6 647.5,621.22 650.5,619.07 653.5,623.99 656.5,629.83 659.5,630.44 662.5,627.83 665.5,625.22 668.5,648.59 671.5,671.65 674.5,696.24 677.5,708.54 680.5,713.93 683.5,715.46 686.5,700.86 689.5,677.8 692.5,674.72 695.5,673.95 698.5,654.73 701.5,639.36 704.5,646.28 707.5,657.04 710.5,656.27 713.5,661.19 716.5,633.21 719.5,627.83 722.5,626.75 725.5,633.21 728.5,627.37 731.5,629.37 734.5,627.83 737.5,625.22 740.5,632.44 743.5,658.58 746.5,671.65 749.5,685.48 752.5,677.49 755.5,687.02 758.5,700.86 761.5,707.31 764.5,706.24 767.5,694.71 770.5,665.19 773.5,680.87 776.5,691.63 779.5,689.33 782.5,697.78 785.5,680.1 788.5,674.72 791.5,670.11 794.5,673.18 797.5,653.2 800.5,632.44 803.5,622.45 806.5,627.06 809.5,616.61 812.5,616.3 815.5,631.67 818.5,647.82 821.5,640.9 824.5,645.51 827.5,630.44 830.5,642.44 833.5,635.52 836.5,634.44 839.5,644.28 842.5,644.28 845.5,642.44 848.5,630.44 851.5,631.37 854.5,640.9 857.5,645.51 860.5,664.73 863.5,672.41 866.5,673.95 869.5,665.5 872.5,647.05 875.5,630.9 878.5,623.22 881.5,623.99 884.5,622.14 887.5,617.07 890.5,618.14 893.5,622.45 896.5,631.67 899.5,634.75 902.5,654.73 905.5,671.65 908.5,685.48 911.5,694.71 914.5,702.39 917.5,709.31 920.5,713.46 923.5,694.71 926.5,693.94 929.5,680.87 932.5,647.05 935.5,622.45 938.5,611.38 941.5,615.53 944.5,621.68 947.5,665.5 950.5,688.25" fill="none" stroke="#35a6df" stroke-width="1" stroke-linejoin="round"/>
<polyline points="92.5,680.4 95.5,682 98.5,681.84 101.5,681.22 104.5,681.83 107.5,680.7 110.5,677.87 113.5,673.47 116.5,668.27 119.5,662.6 122.5,655.88 125.5,649.34 128.5,644.4 131.5,641.16 134.5,638.48 137.5,636.96 140.5,634.85 143.5,633.73 146.5,633.4 149.5,632.38 152.5,633.93 155.5,637.23 158.5,640.83 161.5,646.55 164.5,654.09 167.5,661.43 170.5,667.02 173.5,672.18 176.5,676.61 179.5,678.97 182.5,681.66 185.5,676.93 188.5,670.86 191.5,665.81 194.5,661.93 197.5,659.25 200.5,657.4 203.5,655.52 206.5,651.46 209.5,647.58 212.5,647.11 215.5,645.34 218.5,641.85 221.5,638.03 224.5,635.47 227.5,635.15 230.5,633.6 233.5,632.88 236.5,632.05 239.5,635.07 242.5,641.83 245.5,650.6 248.5,658.76 251.5,666.42 254.5,671.12 257.5,672.52 260.5,672.83 263.5,675.96 266.5,679.95 269.5,683.6 272.5,682.77 275.5,678.98 278.5,672.88 281.5,666.95 284.5,662.62 287.5,657.21 290.5,652.07 293.5,650.14 296.5,646.4 299.5,646.94 302.5,646.62 305.5,647.12 308.5,649.31 311.5,654.48 314.5,661.32 317.5,668.07 320.5,674.03 323.5,678.85 326.5,682.54 329.5,686.26 332.5,688.45 335.5,689.56 338.5,690.52 341.5,691.56 344.5,692.84 347.5,693.33 350.5,691.77 353.5,692.19 356.5,693.25 359.5,693.68 362.5,691.37 365.5,689.16 368.5,686.22 371.5,681.39 374.5,674.62 377.5,665.85 380.5,661.3 383.5,656.96 386.5,651.48 389.5,653.04 392.5,655.26 395.5,660.02 398.5,666.29 401.5,672.33 404.5,678.05 407.5,682.52 410.5,685.9 413.5,686.5 416.5,686.09 419.5,686.56 422.5,687.94 425.5,687.37 428.5,684.02 431.5,678.52 434.5,671.61 437.5,664.81 440.5,658.05 443.5,654.39 446.5,652.14 449.5,650.64 452.5,647.27 455.5,645.37 458.5,646.49 461.5,649.87 464.5,655.5 467.5,662.64 470.5,667.44 473.5,670.57 476.5,673.58 479.5,677.91 482.5,681.85 485.5,682.15 488.5,681.75 491.5,681.51 494.5,680.1 497.5,678.13 500.5,676.98 503.5,678.63 506.5,680.27 509.5,679.04 512.5,675.24 515.5,672.09 518.5,670.16 521.5,670.15 524.5,672.34 527.5,674.33 530.5,673.95 533.5,672.85 536.5,671.36 539.5,670.74 542.5,666.26 545.5,659.38 548.5,653.67 551.5,648.88 554.5,644.49 557.5,641.23 560.5,640.96 563.5,642.93 566.5,647.25 569.5,653.81 572.5,658.67 575.5,660.96 578.5,660.95 581.5,660.94 584.5,661.59 587.5,663.14 590.5,662.49 593.5,659.18 596.5,653.93 599.5,648.95 602.5,644.95 605.5,643.38 608.5,643.68 611.5,641.79 614.5,640.9 617.5,640.9 620.5,639.54 623.5,640.17 626.5,646.64 629.5,655.05 632.5,657.42 635.5,654.4 638.5,649.51 641.5,645.46 644.5,641.91 647.5,638.96 650.5,636.12 653.5,634.38 656.5,633.73 659.5,633.26 662.5,632.49 665.5,631.45 668.5,633.9 671.5,639.29 674.5,647.43 677.5,656.16 680.5,664.41 683.5,671.7 686.5,675.87 689.5,676.14 692.5,675.94 695.5,675.66 698.5,672.67 701.5,667.91 704.5,664.82 707.5,663.71 710.5,662.65 713.5,662.44 716.5,658.26 719.5,653.92 722.5,650.03 725.5,647.63 728.5,644.74 731.5,642.54 734.5,640.44 737.5,638.26 740.5,637.43 743.5,640.45 746.5,644.91 749.5,650.71 752.5,654.53 755.5,659.17 758.5,665.13 761.5,671.15 764.5,676.17 767.5,678.82 770.5,676.87 773.5,677.44 776.5,679.47 779.5,680.88 782.5,683.29 785.5,682.84 788.5,681.68 791.5,680.02 794.5,679.05 797.5,675.35 800.5,669.22 803.5,662.54 806.5,657.47 809.5,651.63 812.5,646.59 815.5,644.46 818.5,644.94 821.5,644.36 824.5,644.52 827.5,642.51 830.5,642.5 833.5,641.5 836.5,640.49 839.5,641.04 842.5,641.5 845.5,641.63 848.5,640.03 851.5,638.8 854.5,639.1 857.5,640.01 860.5,643.54 863.5,647.67 866.5,651.42 869.5,653.43 872.5,652.52 875.5,649.43 878.5,645.69 881.5,642.59 884.5,639.67 887.5,636.44 890.5,633.82 893.5,632.2 896.5,632.12 899.5,632.5 902.5,635.68 905.5,640.81 908.5,647.2 911.5,653.98 914.5,660.9 917.5,667.82 920.5,674.34 923.5,677.25 926.5,679.63 929.5,679.81 932.5,675.13 935.5,667.6 938.5,659.57 941.5,653.28 944.5,648.77 947.5,651.16 950.5,656.45" fill="none" stroke="#35c27a" stroke-width="1" stroke-linejoin="round"/>
<polyline points="92.5,681.33 95.5,685.21 98.5,681.52 101.5,679.98 104.5,683.05 107.5,678.45 110.5,672.21 113.5,664.66 116.5,657.86 119.5,651.27 122.5,642.43 125.5,636.28 128.5,634.52 131.5,634.66 134.5,633.14 137.5,633.92 140.5,630.61 143.5,631.51 146.5,632.72 149.5,630.35 152.5,637.02 155.5,643.83 158.5,648.03 161.5,657.99 164.5,669.16 167.5,676.11 170.5,678.19 173.5,682.51 176.5,685.46 179.5,683.71 182.5,687.03 185.5,667.48 188.5,658.72 191.5,655.72 194.5,654.15 197.5,653.9 200.5,653.69 203.5,651.78 206.5,643.33 209.5,639.82 212.5,646.16 215.5,641.81 218.5,634.87 221.5,630.37 224.5,630.36 227.5,634.5 230.5,630.5 233.5,631.45 236.5,630.39 239.5,641.11 242.5,655.36 245.5,668.12 248.5,675.1 251.5,681.75 254.5,680.52 257.5,675.3 260.5,673.46 263.5,682.21 266.5,687.95 269.5,690.89 272.5,681.11 275.5,671.41 278.5,660.68 281.5,655.09 284.5,653.94 287.5,646.39 290.5,641.78 293.5,646.29 296.5,638.93 299.5,648 302.5,646 305.5,648.12 308.5,653.68 311.5,664.81 314.5,675.01 317.5,681.56 320.5,685.94 323.5,688.49 326.5,689.93 329.5,693.68 332.5,692.84 335.5,691.79 338.5,692.43 341.5,693.63 344.5,695.41 347.5,694.3 350.5,688.65 353.5,693.03 356.5,695.38 359.5,694.53 362.5,686.74 365.5,684.76 368.5,680.34 371.5,671.74 374.5,661.07 377.5,648.31 380.5,652.19 383.5,648.27 386.5,640.52 389.5,656.17 392.5,659.7 395.5,669.53 398.5,678.84 401.5,684.4 404.5,689.5 407.5,691.45 410.5,692.68 413.5,687.7 416.5,685.28 419.5,687.48 422.5,690.71 425.5,686.23 428.5,677.34 431.5,667.52 434.5,657.79 437.5,651.2 440.5,644.55 443.5,647.08 446.5,647.62 449.5,647.65 452.5,640.54 455.5,641.58 458.5,648.73 461.5,656.61 464.5,666.78 467.5,676.92 470.5,677.04 473.5,676.82 476.5,679.6 479.5,686.59 482.5,689.72 485.5,682.75 488.5,680.94 491.5,681.04 494.5,677.28 497.5,674.17 500.5,674.69 503.5,681.94 506.5,683.55 509.5,676.58 512.5,667.63 515.5,665.79 518.5,666.3 521.5,670.14 524.5,676.72 527.5,678.3 530.5,673.18 533.5,670.65 536.5,668.38 539.5,669.51 542.5,657.29 545.5,645.64 548.5,642.24 551.5,639.3 554.5,635.71 557.5,634.71 560.5,640.43 563.5,646.87 566.5,655.9 569.5,666.93 572.5,668.37 575.5,665.55 578.5,660.93 581.5,660.92 584.5,662.89 587.5,666.23 590.5,661.18 593.5,652.57 596.5,643.44 599.5,638.99 602.5,636.94 605.5,640.25 608.5,644.29 611.5,638.01 614.5,639.1 617.5,640.9 620.5,636.81 623.5,641.44 626.5,659.59 629.5,671.85 632.5,662.16 635.5,648.36 638.5,639.72 641.5,637.38 644.5,634.81 647.5,633.04 650.5,630.43 653.5,630.92 656.5,632.43 659.5,632.32 662.5,630.93 665.5,629.37 668.5,638.79 671.5,650.07 674.5,663.7 677.5,673.62 680.5,680.91 683.5,686.29 686.5,684.2 689.5,676.69 692.5,675.53 695.5,675.09 698.5,666.69 701.5,658.39 704.5,658.64 707.5,661.49 710.5,660.52 713.5,662.02 716.5,649.91 719.5,645.22 722.5,642.27 725.5,642.82 728.5,638.95 731.5,638.15 734.5,636.24 737.5,633.92 740.5,635.77 743.5,646.5 746.5,653.82 749.5,662.3 752.5,662.18 755.5,668.46 758.5,677.04 761.5,683.21 764.5,686.19 767.5,684.11 770.5,672.98 773.5,678.58 776.5,683.52 779.5,683.69 782.5,688.12 785.5,681.92 788.5,679.36 791.5,676.72 794.5,677.09 797.5,667.97 800.5,656.96 803.5,649.18 806.5,647.34 809.5,639.96 812.5,636.49 815.5,640.2 818.5,645.9 821.5,643.21 824.5,644.85 827.5,638.49 830.5,642.48 833.5,639.51 836.5,638.48 839.5,642.12 842.5,642.43 845.5,641.9 848.5,636.84 851.5,636.32 854.5,639.7 857.5,641.85 860.5,650.6 863.5,655.92 866.5,658.93 869.5,657.45 872.5,650.7 875.5,643.26 878.5,638.2 881.5,636.39 884.5,633.83 887.5,629.98 890.5,628.6 893.5,628.95 896.5,631.97 899.5,633.25 902.5,642.03 905.5,651.09 908.5,659.96 911.5,667.56 914.5,674.73 917.5,681.65 920.5,687.38 923.5,683.07 926.5,684.4 929.5,680.16 932.5,665.77 935.5,652.55 938.5,643.51 941.5,640.7 944.5,639.74 947.5,655.94 950.5,667.05" fill="none" stroke="#3a82f7" stroke-width="1" stroke-linejoin="round"/>
<rect x="0" y="0" width="20" height="213" fill="#e0e2ea"/>
<rect x="0" y="50" width="20" height="1" fill="#dfe8f4"/>
<rect x="0" y="51" width="19" height="46" fill="#ff6a00"/>
<rect x="19" y="51" width="1" height="46" fill="#e8f2fc"/>
<rect x="0" y="149" width="20" height="1" fill="#eceef3"/>
<rect x="0" y="213" width="20" height="1" fill="#cdd5e0"/>
<rect x="0" y="214" width="1" height="521" fill="#cdd5e0"/>
<rect x="19" y="214" width="1" height="521" fill="#cfd7e2"/>
<g font-family="'Liberation Sans','Noto Sans CJK SC',sans-serif" font-size="13.4" fill="#17202e">
<text x="2.9" y="17.892">分</text>
<text x="2.9" y="32.292">时</text>
<text x="2.9" y="46.392">图</text>
<text x="2.9" y="81.292" fill="#ffffff">线</text>
<text x="2.9" y="94.692" fill="#ffffff">图</text>
<text x="2.9" y="115.692">闪</text>
<text x="2.9" y="130.692">电</text>
<text x="2.9" y="144.292">图</text>
<text x="2.9" y="168.292">合</text>
<text x="2.9" y="182.392">约</text>
<text x="2.9" y="195.992">资</text>
<text x="2.9" y="209.892">料</text>
</g>
<text x="92.5" y="14.16" font-family="'Liberation Sans','Noto Sans CJK SC',sans-serif" font-size="12" fill="#000">欧元美元<tspan fill="#ff8a1e">【日线】</tspan></text>
<text x="33.8" y="730.94" font-family="'Liberation Sans','Noto Sans CJK SC',sans-serif" font-size="13" font-weight="bold" fill="#ff7a00">日线</text>
<path d="M63.5 730.5L68 721L72.5 730.5Z" fill="#ff7a00"/>
<g stroke="#ff8a1e" fill="none" stroke-width="1"><circle cx="192.7" cy="11.3" r="3.9"/><path d="M188.5 11.3H197M192.7 7.2V15.4"/></g>
<rect x="206" y="2" width="12" height="12.5" fill="#555a8a" opacity=".55"/>
<rect x="205.5" y="1.5" width="11.5" height="12" fill="#fff" stroke="#141488" stroke-width="1"/>
<polyline points="206.3,7.6 209.4,4.3 211.9,6.9 216.3,4.4" fill="none" stroke="#f01020" stroke-width="1.1"/>
<polyline points="206.3,10.8 209.4,7.6 211.9,10 216.3,7.6" fill="none" stroke="#1030e0" stroke-width="1.1"/>
<rect x="1043.5" y="1.5" width="13" height="13" fill="#fff" stroke="#1e78c8" stroke-width="1"/>
<rect x="1059.5" y="1.5" width="13" height="13" fill="#fff" stroke="#1e78c8" stroke-width="1"/>
<rect x="1075.5" y="1.5" width="13" height="13" fill="#fff" stroke="#1e78c8" stroke-width="1"/>
<rect x="1091.5" y="1.5" width="13" height="13" fill="#fff" stroke="#1e78c8" stroke-width="1"/>
<g fill="#1e78c8" shape-rendering="crispEdges"><rect x="1049" y="3" width="2" height="3"/><rect x="1049" y="11" width="2" height="3"/><rect x="1045" y="7" width="3" height="2"/><rect x="1052" y="7" width="3" height="2"/><rect x="1049" y="7" width="2" height="2"/></g>
<g stroke="#1e78c8" fill="#1e78c8" stroke-width="1" shape-rendering="crispEdges"><path d="M1062.5 3V12.5H1071" fill="none"/><path d="M1065.5 4V9" fill="none"/><path d="M1070 4V9L1066.5 6.5Z" stroke="none"/><path d="M1061 5L1062.5 2.5L1064 5Z" stroke="none"/><path d="M1061 10.5L1062.5 13L1064 10.5Z" stroke="none"/><path d="M1069 11L1071.5 12.5L1069 14Z" stroke="none"/></g>
<g stroke="#1e78c8" fill="#1e78c8" stroke-width="1" shape-rendering="crispEdges"><path d="M1078.5 3V12.5H1087" fill="none"/><path d="M1081 3.5V10L1086.5 6.8Z" stroke="none"/><path d="M1077 5L1078.5 2.5L1080 5Z" stroke="none"/><path d="M1085 11L1087.5 12.5L1085 14Z" stroke="none"/></g>
<g stroke="#1e78c8" fill="#1e78c8" stroke-width="1.4"><path d="M1098 5.5V3.5H1094V12.5H1098V10.5" fill="none"/><path d="M1096.5 8H1100" fill="none" stroke-width="2"/><path d="M1099.5 4.5L1103.8 8L1099.5 11.5Z" stroke="none"/></g>
<path d="M1166 116.5L1170 112.5L1174 116.5ZM1166 120.5L1170 116.5L1174 120.5Z" fill="#ff8a1e"/>
<g><circle cx="29" cy="595" r="3.4" fill="none" stroke="#000" stroke-width="1"/><circle cx="29" cy="595" r="1.9" fill="#ff0000"/><path d="M29 588.2v2M29 599.8v2M22.2 595h2M33.8 595h2M24.2 590.2l1.4 1.4M32.4 598.4l1.4 1.4M24.2 599.8l1.4-1.4M32.4 591.6l1.4-1.4" stroke="#ff0000" stroke-width="1" fill="none"/></g>
<rect x="606" y="733" width="451" height="1" fill="#e6ebf2"/>
</svg>
<div class="t" id="yl0" style="top:15.44px;font-size:12px;color:#2a2d3e;right:1090px;">1.2027</div>
<div class="t" id="yr0" style="top:15.44px;font-size:12px;color:#2a2d3e;left:1110px;">1.2027</div>
<div class="t" id="yl1" style="top:75.44px;font-size:12px;color:#2a2d3e;right:1090px;">1.1744</div>
<div class="t" id="yr1" style="top:75.44px;font-size:12px;color:#2a2d3e;left:1110px;">1.1744</div>
<div class="t" id="yl2" style="top:135.44px;font-size:12px;color:#2a2d3e;right:1090px;">1.1462</div>
<div class="t" id="yr2" style="top:135.44px;font-size:12px;color:#2a2d3e;left:1110px;">1.1462</div>
<div class="t" id="yl3" style="top:195.44px;font-size:12px;color:#2a2d3e;right:1090px;">1.1179</div>
<div class="t" id="yr3" style="top:195.44px;font-size:12px;color:#2a2d3e;left:1110px;">1.1179</div>
<div class="t" id="yl4" style="top:255.44px;font-size:12px;color:#2a2d3e;right:1090px;">1.0896</div>
<div class="t" id="yr4" style="top:255.44px;font-size:12px;color:#2a2d3e;left:1110px;">1.0896</div>
<div class="t" id="yl5" style="top:315.44px;font-size:12px;color:#2a2d3e;right:1090px;">1.0613</div>
<div class="t" id="yr5" style="top:315.44px;font-size:12px;color:#2a2d3e;left:1110px;">1.0613</div>
<div class="t" id="yl6" style="top:375.44px;font-size:12px;color:#2a2d3e;right:1090px;">1.0330</div>
<div class="t" id="yr6" style="top:375.44px;font-size:12px;color:#2a2d3e;left:1110px;">1.0330</div>
<div class="t" id="rl0" style="top:456.44px;font-size:12px;color:#2a2d3e;right:1090px;">75.8517</div>
<div class="t" id="rr0" style="top:456.44px;font-size:12px;color:#2a2d3e;left:1109px;">75.8517</div>
<div class="t" id="rl1" style="top:481.44px;font-size:12px;color:#2a2d3e;right:1090px;">65.9418</div>
<div class="t" id="rr1" style="top:481.44px;font-size:12px;color:#2a2d3e;left:1109px;">65.9418</div>
<div class="t" id="rl2" style="top:506.44px;font-size:12px;color:#2a2d3e;right:1090px;">56.0319</div>
<div class="t" id="rr2" style="top:506.44px;font-size:12px;color:#2a2d3e;left:1109px;">56.0319</div>
<div class="t" id="rl3" style="top:531.44px;font-size:12px;color:#2a2d3e;right:1090px;">46.1220</div>
<div class="t" id="rr3" style="top:531.44px;font-size:12px;color:#2a2d3e;left:1109px;">46.1220</div>
<div class="t" id="rl4" style="top:556.44px;font-size:12px;color:#2a2d3e;right:1090px;">36.2121</div>
<div class="t" id="rr4" style="top:556.44px;font-size:12px;color:#2a2d3e;left:1109px;">36.2121</div>
<div class="t" id="kl0" style="top:603.44px;font-size:12px;color:#2a2d3e;right:1090px;">114.7271</div>
<div class="t" id="kr0" style="top:603.44px;font-size:12px;color:#2a2d3e;left:1109px;">114.7271</div>
<div class="t" id="kl1" style="top:629.44px;font-size:12px;color:#2a2d3e;right:1090px;">81.3142</div>
<div class="t" id="kr1" style="top:629.44px;font-size:12px;color:#2a2d3e;left:1109px;">81.3142</div>
<div class="t" id="kl2" style="top:655.94px;font-size:12px;color:#2a2d3e;right:1090px;">47.9013</div>
<div class="t" id="kr2" style="top:655.94px;font-size:12px;color:#2a2d3e;left:1109px;">47.9013</div>
<div class="t" id="kl3" style="top:682.94px;font-size:12px;color:#2a2d3e;right:1090px;">14.4884</div>
<div class="t" id="kr3" style="top:682.94px;font-size:12px;color:#2a2d3e;left:1109px;">14.4884</div>
<div class="t" id="m0" style="top:719.14px;font-size:12px;color:#1a1d2a;left:115px;font-weight:bold;">2024/07</div>
<div class="t" id="m1" style="top:719.14px;font-size:12px;color:#1a1d2a;left:184px;font-weight:bold;">2024/08</div>
<div class="t" id="m2" style="top:719.14px;font-size:12px;color:#1a1d2a;left:250px;font-weight:bold;">2024/09</div>
<div class="t" id="m3" style="top:719.14px;font-size:12px;color:#1a1d2a;left:313px;font-weight:bold;">2024/10</div>
<div class="t" id="m4" style="top:719.14px;font-size:12px;color:#1a1d2a;left:382px;font-weight:bold;">2024/11</div>
<div class="t" id="m5" style="top:719.14px;font-size:12px;color:#1a1d2a;left:445px;font-weight:bold;">2024/12</div>
<div class="t" id="m6" style="top:719.14px;font-size:12px;color:#1a1d2a;left:508px;font-weight:bold;">2025/01</div>
<div class="t" id="m7" style="top:719.14px;font-size:12px;color:#1a1d2a;left:574px;font-weight:bold;">2025/02</div>
<div class="t" id="m8" style="top:719.14px;font-size:12px;color:#1a1d2a;left:634px;font-weight:bold;">2025/03</div>
<div class="t" id="m9" style="top:719.14px;font-size:12px;color:#1a1d2a;left:697px;font-weight:bold;">2025/04</div>
<div class="t" id="m10" style="top:719.14px;font-size:12px;color:#1a1d2a;left:763px;font-weight:bold;">2025/05</div>
<div class="t" id="m11" style="top:719.14px;font-size:12px;color:#1a1d2a;left:829px;font-weight:bold;">2025/06</div>
<div class="t" id="m12" style="top:719.14px;font-size:12px;color:#1a1d2a;left:893px;font-weight:bold;">2025/07</div>
<div class="t" id="lv0" style="top:45.94px;font-size:12px;color:#ff0000;right:71px;">1.1850</div>
<div class="t" id="lv1" style="top:63.14px;font-size:12px;color:#ff0000;right:71px;">1.1770</div>
<div class="t" id="lv2" style="top:86.14px;font-size:12px;color:#ff0000;right:71px;">1.1660</div>
<div class="t" id="lv3" style="top:109.14px;font-size:12px;color:#ff0000;right:71px;">1.1550</div>
<div class="t" id="lv4" style="top:168.14px;font-size:12px;color:#ff0000;right:71px;">1.1273</div>
<div class="t" id="lv5" style="top:182.14px;font-size:12px;color:#ff0000;right:71px;">1.1200</div>
<div class="t" id="fb0" style="top:133.04px;font-size:12px;color:#0000ff;right:74.8px;font-weight:bold;letter-spacing:0.126px;">0.236 \ 1.1439</div>
<div class="t" id="fb1" style="top:184.04px;font-size:12px;color:#0000ff;right:74.8px;font-weight:bold;letter-spacing:0.173px;">0.382 \ 1.1198</div>
<div class="t" id="fb2" style="top:225.04px;font-size:12px;color:#0000ff;right:74.8px;font-weight:bold;letter-spacing:0.126px;">0.500 \ 1.1004</div>
<div class="t" id="fb3" style="top:266.04px;font-size:12px;color:#0000ff;right:74.8px;font-weight:bold;letter-spacing:0.126px;">0.618 \ 1.0809</div>
<div class="t" id="fb4" style="top:325.04px;font-size:12px;color:#0000ff;right:74.8px;font-weight:bold;letter-spacing:0.126px;">0.786 \ 1.0531</div>
<div class="t" style="left:1106px;top:120px;width:67px;height:16px;border:1px solid #ff8000;background:#fff"></div>
<div class="t" id="ptag" style="top:122.84px;font-size:12px;color:#ff8a1e;left:1110px;">1.1563</div>
<div class="t" id="h2" style="top:181.14px;font-size:12px;color:#f04a64;left:305.8px;font-weight:bold;text-shadow:1px 1px 0 #ffe3e8;">1.1213</div>
<div class="t" id="lo" style="top:415.24px;font-size:12px;color:#6fbf73;left:532.8px;font-weight:bold;text-shadow:1px 1px 0 #f3e9b5;">1.0177</div>
<div class="t" id="lm20" style="top:96.28px;font-size:11px;color:#5c9ef6;left:937px;letter-spacing:-0.184px;">MA20</div>
<div class="t" id="lm50" style="top:122.48px;font-size:11px;color:#96d596;left:937px;letter-spacing:-0.184px;text-shadow:1px 1px 0 #f5f0c8;">MA50</div>
<div class="t" id="lm200" style="top:257.48px;font-size:11px;color:#ffb27a;left:932.5px;letter-spacing:0.128px;">MA200</div>
<div class="t" id="lg0" style="top:3.58px;font-size:12.3px;color:#000;left:220.6px;letter-spacing:-0.043px;">MA(20,50,0,200,0,0)</div>
<div class="t" id="lg1" style="top:3.58px;font-size:12.3px;color:#4f93f7;left:337.8px;letter-spacing:0.049px;">MA20:1.1692</div>
<div class="t" id="lg2" style="top:3.58px;font-size:12.3px;color:#57cf96;left:420.3px;letter-spacing:0.122px;">MA50:1.1568</div>
<div class="t" id="lg3" style="top:3.58px;font-size:12.3px;color:#45b3ea;left:503px;letter-spacing:0.098px;">MA0:1.1563</div>
<div class="t" id="lg4" style="top:3.58px;font-size:12.3px;color:#ff9a4f;left:579px;letter-spacing:0.067px;">MA200:1.0931</div>
<div class="t" id="lg5" style="top:3.58px;font-size:12.3px;color:#f184dc;left:669.8px;letter-spacing:0.017px;">MA0:1.1563</div>
<div class="t" id="lg6" style="top:3.58px;font-size:12.3px;color:#9090f2;left:745px;letter-spacing:0.098px;">MA0:1.1563</div>
<div class="t" id="lg7" style="top:3.58px;font-size:12.3px;color:#5b9df7;left:821px;letter-spacing:0.213px;">MA20:1.1692</div>
<div class="t" id="lg8" style="top:3.58px;font-size:12.3px;color:#a3dba3;left:904.5px;letter-spacing:0.057px;">MA50:1.15</div>
<div class="t" id="rg0" style="top:444.38px;font-size:12.3px;color:#000;left:92.5px;letter-spacing:-0.274px;">RSI(14,14,14)</div>
<div class="t" id="rg1" style="top:444.38px;font-size:12.3px;color:#4f93f7;left:171.3px;letter-spacing:-0.185px;">RSI1:42.3444</div>
<div class="t" id="rg2" style="top:444.38px;font-size:12.3px;color:#52c98c;left:253px;letter-spacing:-0.143px;">RSI2:42.3444</div>
<div class="t" id="rg3" style="top:444.38px;font-size:12.3px;color:#3fabe6;left:335.3px;letter-spacing:-0.168px;">RSI3:42.3444</div>
<div class="t" id="kg0" style="top:592.38px;font-size:12.3px;color:#000;left:92.8px;letter-spacing:-0.358px;">KDJ(9,3,3)</div>
<div class="t" id="kg1" style="top:592.38px;font-size:12.3px;color:#4f93f7;left:153px;letter-spacing:-0.120px;">K:41.3876</div>
<div class="t" id="kg2" style="top:592.38px;font-size:12.3px;color:#52c98c;left:217px;letter-spacing:-0.085px;">D:54.5736</div>
<div class="t" id="kg3" style="top:592.38px;font-size:12.3px;color:#3fabe6;left:281.8px;letter-spacing:-0.202px;">J:15.0157</div>
<div class="t" id="wm" style="top:683.17px;font-size:31.8px;color:#dbe5f3;left:1046px;letter-spacing:1.863px;opacity:.92;text-shadow:1px 1px 1px #b9a79b;">FX678</div>
<div class="t" style="left:6.2px;top:56.6px;font-size:11px;color:#fff;font-family:'Liberation Serif',serif;">K</div>
</body></html>
